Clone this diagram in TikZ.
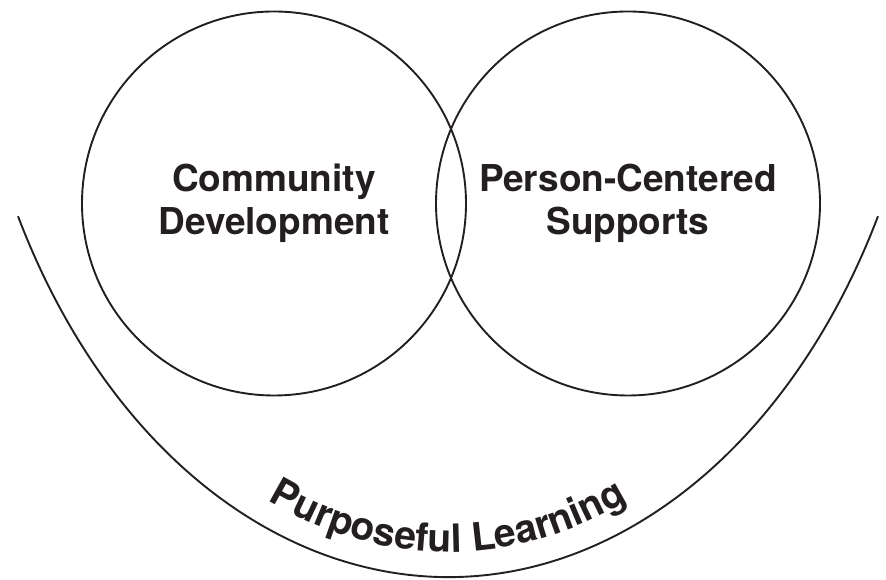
\documentclass[tikz,border=0pt]{standalone}
\usepackage{fontspec}
\setmainfont{TeX Gyre Heros}
\usepackage{tikz}
\usetikzlibrary{decorations.text}
\definecolor{ink}{RGB}{35,31,32}

\begin{document}
\begin{tikzpicture}[x=1pt,y=1pt,
        every node/.style={text=ink},
        ring/.style={circle,draw=ink,line width=1.9pt,minimum size=384pt,inner sep=0pt,
          align=center,font=\bfseries\fontsize{37}{43}\selectfont}]
    \useasboundingbox (0,0) rectangle (886,580);

    \node[ring] (commdev) at (274,376.5) {Community\\Development};
    \node[ring] (person)  at (628,376.5) {Person-Centered\\Supports};

    % the bowl under both circles, with its label set along the inside
    \coordinate (bowl) at (448,683);
    \draw[ink,line width=1.9pt] (bowl) ++(208:487 and 680)
      arc[start angle=208,end angle=332,x radius=487,y radius=680];
    \path[decorate,decoration={text along path,text align=center,
          text={|\bfseries\fontsize{39}{43}\selectfont\color{ink}|Purposeful Learning}}]
      (bowl) ++(208:462 and 655)
      arc[start angle=208,end angle=332,x radius=462,y radius=655];
\end{tikzpicture}
\end{document}
